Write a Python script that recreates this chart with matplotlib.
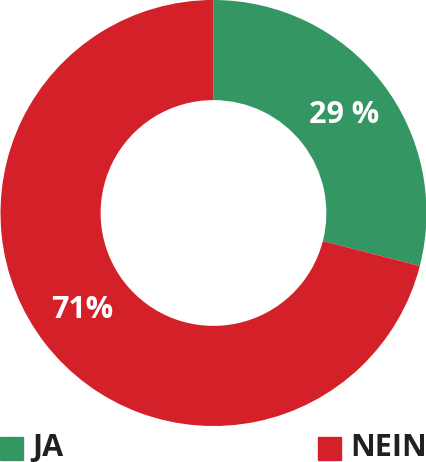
import matplotlib
matplotlib.use('Agg')
import matplotlib.pyplot as plt

# Daten
labels = ['JA', 'NEIN']
values = [29, 71]
value_texts = ['29 %', '71%']
colors = ['#339663', '#d42028']

font = ['Open Sans', 'DejaVu Sans']

fig = plt.figure(figsize=(4.27, 4.62), dpi=100)
ax = fig.add_axes([0, 36 / 462, 1, 426 / 462])
ax.pie(values, colors=colors, startangle=90, counterclock=False,
       radius=1.0, wedgeprops=dict(width=0.47, linewidth=0))
ax.set_xlim(-1, 1)
ax.set_ylim(-1, 1)
ax.set_aspect('equal')
ax.axis('off')

# Beschriftungen im Ring
ax.text(0.615, 0.46, value_texts[0], color='white', fontsize=22, fontweight='bold',
        family=font, ha='center', va='center')
ax.text(-0.615, -0.455, value_texts[1], color='white', fontsize=22, fontweight='bold',
        family=font, ha='center', va='center')

# Legende unten
lx = [0, 318]
for i in range(2):
    fig.patches.append(plt.Rectangle((lx[i] / 427, 2 / 462), 23 / 427, 23 / 462,
                                     transform=fig.transFigure, color=colors[i]))
    fig.text((lx[i] + 32) / 427, 14 / 462, labels[i], color='#231f20', fontsize=22,
             fontweight='bold', family=font, ha='left', va='center')

fig.savefig('out.png', dpi=100)
